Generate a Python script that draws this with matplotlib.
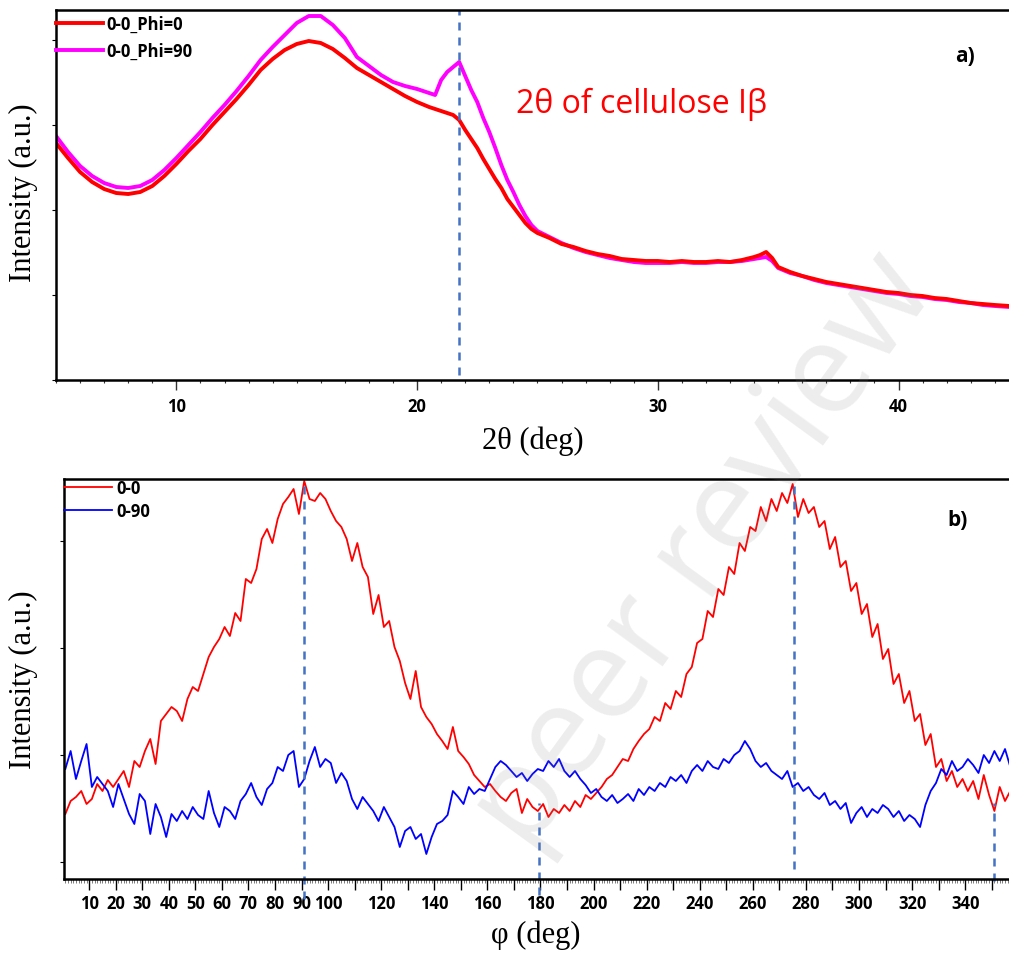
import numpy as np
import matplotlib
matplotlib.use("Agg")
import matplotlib.pyplot as plt
from matplotlib.ticker import FixedLocator, FixedFormatter, NullFormatter

plt.rcParams["font.family"] = ["Open Sans", "DejaVu Sans"]

# ---------- a) 2theta scan ----------
two_theta = [5.0, 5.5, 6.0, 6.5, 7.0, 7.5, 8.0, 8.5, 9.0, 9.5,
             10.0, 10.5, 11.0, 11.5, 12.0, 12.5, 13.0, 13.5, 14.0, 14.5,
             15.0, 15.5, 16.0, 16.5, 17.0, 17.5, 18.0, 18.5, 19.0, 19.5,
             20.0, 20.5, 20.75, 21.0, 21.25, 21.5, 21.75, 22.0, 22.25, 22.5,
             22.75, 23.0, 23.25, 23.5, 23.75, 24.0, 24.25, 24.5, 24.75, 25.0,
             25.5, 26.0, 26.5, 27.0, 27.5, 28.0, 28.5, 29.0, 29.5, 30.0,
             30.5, 31.0, 31.5, 32.0, 32.5, 33.0, 33.5, 34.0, 34.25, 34.5,
             34.75, 35.0, 35.5, 36.0, 36.5, 37.0, 37.5, 38.0, 38.5, 39.0,
             39.5, 40.0, 40.5, 41.0, 41.5, 42.0, 42.5, 43.0, 43.5, 44.0,
             44.6]
int_phi0 = [237, 222, 208, 198, 191, 187, 186, 188, 194, 204,
            216, 229, 241, 255, 268, 281, 295, 310, 321, 330,
            336, 339, 337, 331, 322, 312, 305, 298, 291, 284,
            278, 273, 271, 269, 267, 265, 260, 250, 241, 232,
            221, 211, 201, 192, 181, 173, 165, 157, 151, 147,
            142, 136, 133, 129, 126, 124, 121, 120, 119, 119,
            118, 119, 118, 118, 119, 118, 120, 123, 125, 128,
            122, 113, 108, 104, 101, 98, 96, 94, 92, 90,
            88, 87, 85, 84, 82, 81, 79, 77, 76, 75,
            74]
int_phi90 = [244, 228, 214, 204, 197, 193, 192, 194, 200, 210,
             222, 235, 248, 262, 275, 289, 304, 320, 333, 345,
             357, 364, 364, 355, 342, 323, 314, 305, 298, 294,
             291, 287, 285, 300, 308, 313, 318, 304, 290, 278,
             262, 248, 232, 215, 200, 188, 175, 164, 155, 149,
             143, 137, 132, 128, 125, 122, 120, 118, 117, 117,
             117, 118, 117, 117, 118, 118, 119, 121, 122, 123,
             119, 112, 107, 104, 100, 97, 95, 93, 91, 89,
             87, 86, 84, 83, 81, 80, 78, 77, 75, 74,
             73]
peak_2theta = 21.74

# ---------- b) phi scan ----------
phi = np.arange(1, 358, 2)
int_00 = [65, 78, 82, 88, 75, 80, 95, 88, 99, 92,
          100, 108, 92, 118, 112, 128, 140, 115, 158, 165,
          172, 168, 158, 180, 192, 188, 205, 222, 232, 240,
          252, 243, 266, 258, 300, 296, 310, 340, 350, 336,
          360, 375, 382, 390, 365, 398, 380, 378, 386, 380,
          368, 358, 352, 340, 318, 336, 312, 302, 265, 284,
          252, 258, 232, 218, 196, 180, 208, 172, 162, 155,
          145, 138, 130, 152, 128, 122, 115, 104, 98, 92,
          95, 88, 82, 78, 86, 90, 66, 80, 72, 68,
          75, 62, 70, 66, 74, 68, 78, 72, 84, 80,
          86, 92, 100, 104, 112, 120, 118, 130, 138, 145,
          150, 162, 158, 176, 170, 188, 182, 205, 212, 236,
          240, 268, 262, 290, 284, 312, 305, 336, 328, 352,
          348, 372, 358, 380, 368, 386, 376, 395, 362, 380,
          366, 372, 352, 358, 330, 342, 312, 318, 288, 296,
          265, 275, 242, 255, 220, 230, 195, 205, 176, 188,
          158, 165, 134, 145, 112, 120, 98, 108, 92, 100,
          88, 98, 80, 104, 84, 68, 92, 78, 88]
int_090 = [110, 128, 100, 118, 135, 92, 102, 95, 88, 72,
           95, 80, 65, 55, 85, 78, 45, 75, 62, 42,
           65, 58, 68, 60, 72, 64, 60, 88, 66, 52,
           72, 68, 60, 78, 85, 96, 82, 74, 90, 96,
           112, 108, 124, 128, 92, 100, 118, 132, 112, 120,
           116, 96, 106, 98, 80, 70, 82, 75, 68, 58,
           72, 62, 52, 32, 48, 52, 40, 45, 25, 42,
           55, 58, 64, 88, 82, 75, 92, 85, 90, 88,
           100, 112, 118, 114, 108, 102, 106, 98, 105, 110,
           108, 118, 112, 120, 108, 102, 108, 100, 94, 86,
           90, 82, 78, 84, 76, 80, 85, 78, 90, 84,
           92, 88, 96, 92, 102, 98, 104, 96, 108, 114,
           108, 118, 112, 110, 120, 116, 124, 128, 138, 130,
           118, 112, 116, 108, 104, 100, 108, 92, 96, 88,
           92, 84, 80, 86, 74, 78, 70, 76, 56, 66,
           72, 62, 70, 66, 74, 70, 62, 68, 58, 64,
           60, 52, 74, 88, 96, 110, 104, 118, 108, 112,
           120, 114, 106, 124, 116, 128, 118, 130, 112]
phi_ticks = list(range(10, 351, 10))
phi_labels = [str(v) if (v <= 100 or v % 20 == 0) else "" for v in phi_ticks]

dash_blue = "#4472c4"
serif = "Liberation Serif"

fig = plt.figure(figsize=(10.09, 9.54), dpi=100)
ax1 = fig.add_axes([56 / 1009, 1 - 381 / 954, 953 / 1009, 370 / 954])
ax2 = fig.add_axes([64 / 1009, 1 - 880 / 954, 945 / 1009, 400 / 954])

# ---- panel a ----
l90, = ax1.plot(two_theta, int_phi90, color="#ff00ff", lw=2.8, label="0-0_Phi=90")
l0, = ax1.plot(two_theta, int_phi0, color="#ff0000", lw=2.8, label="0-0_Phi=0")
ax1.axvline(peak_2theta, ymin=0.014, ymax=1, color=dash_blue, lw=1.8, dashes=(3.2, 2.8))
ax1.set_xlim(5, 44.59)
ax1.set_ylim(0, 370)
ax1.xaxis.set_major_locator(FixedLocator([10, 20, 30, 40]))
ax1.xaxis.set_minor_locator(FixedLocator(range(5, 45)))
ax1.set_yticks([0, 85, 170, 255, 340])
ax1.yaxis.set_major_formatter(NullFormatter())
ax1.tick_params(axis="x", which="major", length=7, width=1, color="#333333", pad=5, labelsize=12)
ax1.tick_params(axis="x", which="minor", length=2.5, width=0.8, color="#333333")
ax1.tick_params(axis="y", length=3, width=0.8)
ax1.text(24.1, 277, "2θ of cellulose Iβ", color="red", fontsize=23, va="center")
ax1.text(0.954, 0.876, "a)", transform=ax1.transAxes, fontsize=15, fontweight="bold",
         ha="center", va="center")
ax1.legend(handles=[l0, l90], loc="upper left", bbox_to_anchor=(0, 1 - 5 / 370),
           frameon=False, borderpad=0, borderaxespad=0, handlelength=2.8,
           handletextpad=0.25, labelspacing=0.55, prop={"size": 12, "weight": "bold"})
ax1.set_xlabel("2θ (deg)", family=serif, fontsize=22)
ax1.xaxis.set_label_coords(0.5, -0.124)
ax1.set_ylabel("Intensity (a.u.)", family=serif, fontsize=22)
ax1.yaxis.set_label_coords(-0.019, 0.508)

# ---- panel b ----
r00, = ax2.plot(phi, int_00, color="#ff0000", lw=1.3, label="0-0")
b090, = ax2.plot(phi, int_090, color="#0000ff", lw=1.3, label="0-90")
ax2.axvline(90.8, ymin=-0.05, ymax=1, color=dash_blue, lw=1.8, dashes=(3.2, 2.8), clip_on=False)
ax2.axvline(179.4, ymin=-0.04, ymax=0.19, color=dash_blue, lw=1.8, dashes=(3.2, 2.8), clip_on=False)
ax2.axvline(275.5, ymin=0.025, ymax=0.99, color=dash_blue, lw=1.8, dashes=(3.2, 2.8), clip_on=False)
ax2.axvline(351.0, ymin=-0.005, ymax=0.19, color=dash_blue, lw=1.8, dashes=(3.2, 2.8), clip_on=False)
ax2.set_xlim(0.5, 356.5)
ax2.set_ylim(0, 400)
ax2.xaxis.set_major_locator(FixedLocator(phi_ticks))
ax2.xaxis.set_major_formatter(FixedFormatter(phi_labels))
ax2.xaxis.set_minor_locator(FixedLocator(range(1, 357)))
ax2.set_yticks([17, 124, 231, 338])
ax2.yaxis.set_major_formatter(NullFormatter())
ax2.tick_params(axis="x", which="major", length=8, width=1, pad=3, labelsize=12)
ax2.tick_params(axis="x", which="minor", length=2.8, width=0.6, color="#666666")
ax2.tick_params(axis="y", length=3, width=0.8)
for t, v in zip(ax2.xaxis.get_major_ticks(), phi_ticks):
    t.tick1line.set_color("black" if v % 20 == 0 else "#9a9a9a")
ax2.text(0.946, 0.9, "b)", transform=ax2.transAxes, fontsize=15, fontweight="bold",
         ha="center", va="center")
ax2.legend(handles=[r00, b090], loc="upper left", bbox_to_anchor=(0, 1),
           frameon=False, borderpad=0, borderaxespad=0, handlelength=2.9,
           handletextpad=0.25, labelspacing=0.3, prop={"size": 12, "weight": "bold"})
ax2.set_xlabel("φ (deg)", family=serif, fontsize=22)
ax2.xaxis.set_label_coords(0.4995, -0.1025)
ax2.set_ylabel("Intensity (a.u.)", family=serif, fontsize=22)
ax2.yaxis.set_label_coords(-0.027, 0.5)

for ax in (ax1, ax2):
    ax.spines["right"].set_visible(False)
    for s in ("left", "bottom", "top"):
        ax.spines[s].set_linewidth(1.8)
    for lb in ax.get_xticklabels():
        lb.set_fontweight("bold")

# watermark
fig.text(705 / 1009, 1 - 552 / 954, "peer review", fontsize=92, rotation=54,
         color="gray", alpha=0.14, ha="center", va="center",
         rotation_mode="anchor", zorder=10)

fig.savefig("out.png", dpi=100, facecolor="white")
